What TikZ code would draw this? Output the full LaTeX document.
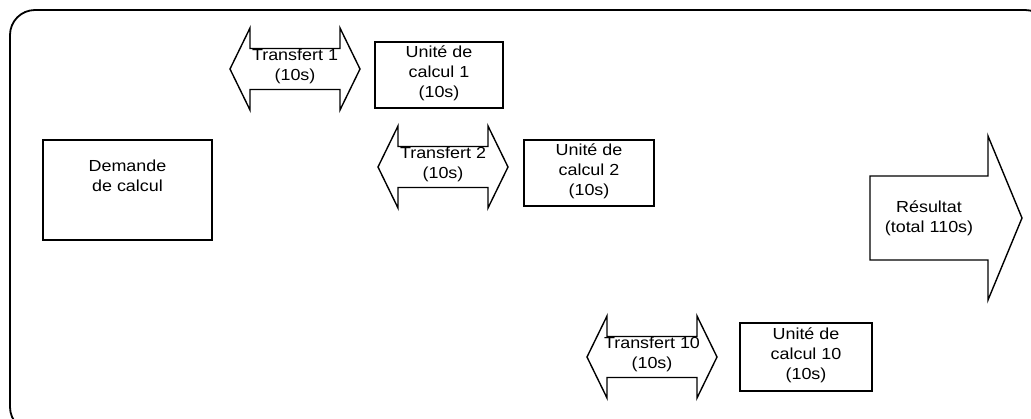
\documentclass[tikz,border=0pt]{standalone}
\usepackage{fontspec}
\setmainfont{Liberation Sans}[FakeStretch=1.12]
\newcommand\dblarrow[3]{% name, cx, cy
  \draw[arrowshape] (#2-65,#3) -- (#2-45,#3-41) -- (#2-45,#3-20.5) -- (#2+45,#3-20.5)
    -- (#2+45,#3-41) -- (#2+65,#3) -- (#2+45,#3+41) -- (#2+45,#3+20.5)
    -- (#2-45,#3+20.5) -- (#2-45,#3+41) -- cycle;
  \coordinate (#1) at (#2,#3);}
\begin{document}
\begin{tikzpicture}[x=1pt,y=-1pt,
  txt/.style={font=\fontsize{16}{20}\selectfont, align=center, inner sep=0pt},
  box/.style={draw, line width=1.4pt, txt},
  arrowshape/.style={draw, line width=1.4pt, line join=miter}]
\useasboundingbox (0,0) rectangle (1031,418);
\clip (0,0) rectangle (1031,418);
\draw[line width=1.8pt, rounded corners=25pt] (10,10) rectangle (1050,432);

\node[box, minimum width=169, minimum height=100] (dem) at (127.5,190) {};
\node[txt] (demt) at (127.5,176) {Demande\\de calcul};

\dblarrow{t1}{295}{69}
\node[txt] (t1t) at (295,66) {Transfert 1\\(10s)};
\node[box, minimum width=128, minimum height=66] (u1) at (439,75) {};
\node[txt] (u1t) at (439,73) {Unité de\\calcul 1\\(10s)};

\dblarrow{t2}{443}{167}
\node[txt] (t2t) at (443,164) {Transfert 2\\(10s)};
\node[box, minimum width=130, minimum height=66] (u2) at (589,173) {};
\node[txt] (u2t) at (589,171) {Unité de\\calcul 2\\(10s)};

\dblarrow{t10}{652}{357}
\node[txt] (t10t) at (652,354) {Transfert 10\\(10s)};
\node[box, minimum width=132, minimum height=68] (u10) at (806,357) {};
\node[txt] (u10t) at (806,355) {Unité de\\calcul 10\\(10s)};

\draw[arrowshape] (870,176) -- (988,176) -- (988,136) -- (1022,218) -- (988,300)
  -- (988,260) -- (870,260) -- cycle;
\node[txt] (res) at (929,218) {Résultat\\(total 110s)};
\end{tikzpicture}
\end{document}
